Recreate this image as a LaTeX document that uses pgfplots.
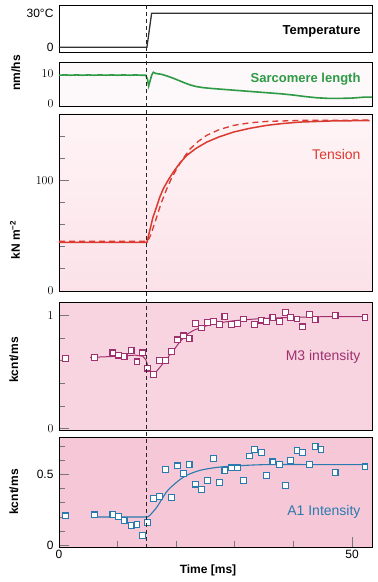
\documentclass[border=0pt]{standalone}
\usepackage{pgfplots}
\pgfplotsset{compat=1.18}
\usepackage{fontspec}
\setmainfont{Liberation Sans}
\definecolor{cgreen}{HTML}{2E9A45}
\definecolor{cred}{HTML}{DA3A30}
\definecolor{cpurp}{HTML}{A0306E}
\definecolor{cblue}{HTML}{2A7AB0}
\definecolor{bgtwo}{HTML}{FDF8F9}
\definecolor{bgthreetop}{HTML}{FFF4F6}
\definecolor{bgthreebot}{HTML}{FBE2E8}
\definecolor{bgfour}{HTML}{F7D4E0}
\definecolor{bgfive}{HTML}{F6C7D6}
\definecolor{tickgray}{HTML}{777777}
\newcommand{\tl}{\fontsize{12}{12}\selectfont}
\newcommand{\lab}{\fontsize{14}{14}\selectfont}
\newcommand{\labb}{\fontsize{13}{13}\selectfont}
\pgfplotsset{
  panel/.style={
    scale only axis, width=313pt, anchor=south west,
    xmin=0, xmax=53.4,
    axis line style={black, line width=0.8pt},
    tick align=inside, ytick pos=left, xtick pos=bottom,
    tick style={tickgray, line width=0.8pt},
    major tick length=10pt, minor tick length=6pt,
    yticklabel style={font=\tl, xshift=-2pt},
    xticklabel style={font=\tl},
    xtick=\empty,
  },
}
\begin{document}
\begin{tikzpicture}
\useasboundingbox (0pt,0pt) rectangle (378pt,582pt);
% Panel 1: Temperature
\begin{axis}[panel, at={(59pt,530pt)}, height=47pt,
  ymin=-4.1, ymax=37.3, ytick={0,30}, yticklabels={0,30°C}, major tick length=0pt]
\addplot[color=black!80, line width=1.3pt] coordinates {(0,0) (15,0) (15.8,30) (53.4,30)};
\coordinate (dtop) at (axis cs:15,37.3);
\end{axis}
% Panel 2: Sarcomere length
\begin{axis}[panel, at={(59pt,475.5pt)}, height=44.5pt,
  axis background/.style={fill=bgtwo},
  ymin=-0.8, ymax=14, ytick={0,10}, major tick length=0pt]
\addplot[color=cgreen, line width=1.6pt] coordinates {
(0,9.6) (1,9.7) (2,9.6) (3,9.7) (4,9.6) (5,9.7) (6,9.6) (7,9.7) (8,9.6) (9,9.7) (10,9.6) (11,9.7) (12,9.6) (13,9.7) (14,9.6) (14.8,9.6)
(15.1,8.2) (15.3,6.0) (15.5,7.4) (15.8,9.6) (16.1,10.6) (16.5,10.2) (16.8,10.1) (17.5,9.9) (18.5,9.3) (19.5,8.6) (20.5,7.8) (21.5,7.0)
(22.5,6.3) (23.5,5.8) (24.5,5.5) (26,5.2) (28,4.9) (30,4.6) (32,4.3) (34,4.0) (36,3.7) (38,3.4) (40,3.0) (42,2.5) (44,2.1)
(46,1.9) (48,1.9) (50,2.0) (52,2.3) (53.4,2.3)};
\end{axis}
% Panel 3: Tension
\begin{axis}[panel, at={(59pt,291pt)}, height=177pt,
  axis background/.style={top color=bgthreetop, bottom color=bgthreebot},
  ymin=0, ymax=160, ytick={0,100}, minor ytick={20,40,60,80,120,140}]
\addplot[color=cred, line width=1.5pt] coordinates {
(0,44) (15,44) (15.5,55) (16,66) (16.7,77) (17.2,85) (17.8,92.5) (18.6,100) (19.5,107.5) (20.6,115.5) (21.8,122.6) (23.4,129)
(25.2,134.6) (27.4,139.5) (29.8,143.7) (32.5,147) (35.4,149.7) (38,151.3) (41.1,152.7) (47,153.8) (53,154)};
\addplot[color=cred, line width=1.3pt, dash pattern=on 6pt off 4pt] coordinates {
(0,45) (15.1,45) (15.6,50) (16.5,64) (17.4,79) (18.4,92.5) (19.2,102) (20.1,110.5) (21.2,120) (22.4,128.6) (23.7,135)
(25.2,140.7) (27.4,146) (29.8,149.7) (32.5,152) (35.4,153.3) (42,154.3) (53,154.5)};
\end{axis}
% Panel 4: M3 intensity
\begin{axis}[panel, at={(59pt,152pt)}, height=128pt,
  axis background/.style={fill=bgfour},
  ymin=-0.012, ymax=1.12, ytick={0,1}, minor ytick={0.2,0.4,0.6,0.8}]
\addplot[color=cpurp, line width=1pt] coordinates {
(5.3,0.63) (10,0.64) (13,0.65) (14.3,0.64) (14.8,0.61) (15.2,0.55) (15.7,0.50) (16.1,0.49) (16.7,0.51) (17.5,0.56) (18.3,0.61)
(19,0.66) (19.8,0.71) (20.5,0.76) (21.2,0.80) (22,0.84) (23,0.87) (24,0.89) (25.5,0.915) (27,0.93) (28.5,0.945) (30,0.955)
(32.5,0.966) (35,0.975) (40,0.985) (45,0.99) (52.2,0.99)};
\addplot[color=cpurp, only marks, mark=square*, mark size=2.9pt, mark options={fill=white, draw=cpurp, line width=1.1pt}] coordinates {
(1.1,0.62) (6.1,0.63) (9.2,0.67) (10.1,0.65) (11.1,0.64) (12.3,0.69) (13.3,0.59) (14.2,0.67) (15.1,0.535) (16.1,0.48)
(17.1,0.60) (18.2,0.60) (19.2,0.68) (20.2,0.785) (21.2,0.82) (22.2,0.80) (23.3,0.93) (24.3,0.89) (25.3,0.94) (26.4,0.95)
(27.4,0.92) (28.3,0.99) (29.4,0.92) (30.4,0.93) (31.5,0.97) (33.4,0.92) (34.6,0.96) (35.4,0.95) (36.5,0.98) (37.6,0.95)
(38.6,1.03) (39.5,0.985) (40.6,0.97) (41.6,0.90) (42.7,1.01) (43.7,0.965) (47.1,1.0) (52.2,0.98)};
\end{axis}
% Panel 5: A1 intensity
\begin{axis}[panel, at={(59pt,35pt)}, height=110pt,
  axis background/.style={fill=bgfive},
  ymin=-0.012, ymax=0.765, ytick={0,0.5}, yticklabels={0,0.5}, minor ytick={0.1,0.2,0.3,0.4,0.6,0.7},
  xtick={0,50}, xticklabels={0,50}, minor xtick={10,20,30,40}]
\addplot[color=cblue, line width=1.1pt, smooth] coordinates {
(5.6,0.2) (10,0.2) (14.5,0.2) (15.3,0.205) (16.7,0.27) (18.4,0.38) (20.2,0.45) (21.8,0.495) (24.1,0.53) (26.9,0.55) (29.8,0.56) (35.4,0.57) (45,0.57) (52.6,0.57)};
\addplot[color=cblue, only marks, mark=square*, mark size=2.9pt, mark options={fill=white, draw=cblue, line width=1.1pt}] coordinates {
(1.1,0.208) (6.1,0.215) (9.2,0.22) (10.1,0.203) (11.1,0.175) (12.3,0.138) (13.3,0.145) (14.2,0.068) (15.1,0.161) (16.1,0.332)
(17.1,0.343) (18.2,0.537) (19.2,0.336) (20.2,0.561) (21.2,0.507) (22.2,0.572) (23.3,0.432) (24.3,0.395) (25.3,0.46) (26.4,0.612)
(27.4,0.444) (28.3,0.526) (29.4,0.547) (30.4,0.547) (31.5,0.46) (32.5,0.631) (33.4,0.678) (34.5,0.654) (35.4,0.491) (36.5,0.589)
(37.6,0.572) (38.6,0.421) (39.5,0.60) (40.6,0.671) (41.6,0.654) (42.7,0.57) (43.7,0.70) (44.7,0.678) (47.1,0.512) (52.2,0.554)};
\coordinate (dbot) at (axis cs:15,-0.012);
\end{axis}
\draw[black!85, line width=1pt, dash pattern=on 4pt off 3pt] (dtop) -- (dbot);
% panel labels
\node[anchor=east, font=\labb\bfseries, inner sep=0pt] at (360.7pt,550.3pt) {Temperature};
\node[anchor=east, font=\labb\bfseries, inner sep=0pt, text=cgreen] at (360.7pt,502.7pt) {Sarcomere length};
\node[anchor=east, font=\lab, inner sep=0pt, text=cred] at (360.7pt,427.7pt) {Tension};
\node[anchor=east, font=\lab, inner sep=0pt, text=cpurp] at (360.7pt,225.3pt) {M3 intensity};
\node[anchor=east, font=\lab, inner sep=0pt, text=cblue] at (360.7pt,70.3pt) {A1 Intensity};
% y labels
\node[rotate=90, font=\fontsize{12}{12}\selectfont\bfseries, inner sep=0pt] at (16pt,509pt) {nm/hs};
\node[rotate=90, font=\fontsize{12}{12}\selectfont\bfseries, inner sep=0pt] at (15pt,342pt) {kN m\textsuperscript{−2}};
\node[rotate=90, font=\fontsize{12}{12}\selectfont\bfseries, inner sep=0pt] at (14pt,222pt) {kcnt/ms};
\node[rotate=90, font=\fontsize{12}{12}\selectfont\bfseries, inner sep=0pt] at (14pt,90pt) {kcnt/ms};
\node[font=\fontsize{12}{12}\selectfont\bfseries, inner sep=0pt] at (208pt,12pt) {Time [ms]};
\end{tikzpicture}
\end{document}
